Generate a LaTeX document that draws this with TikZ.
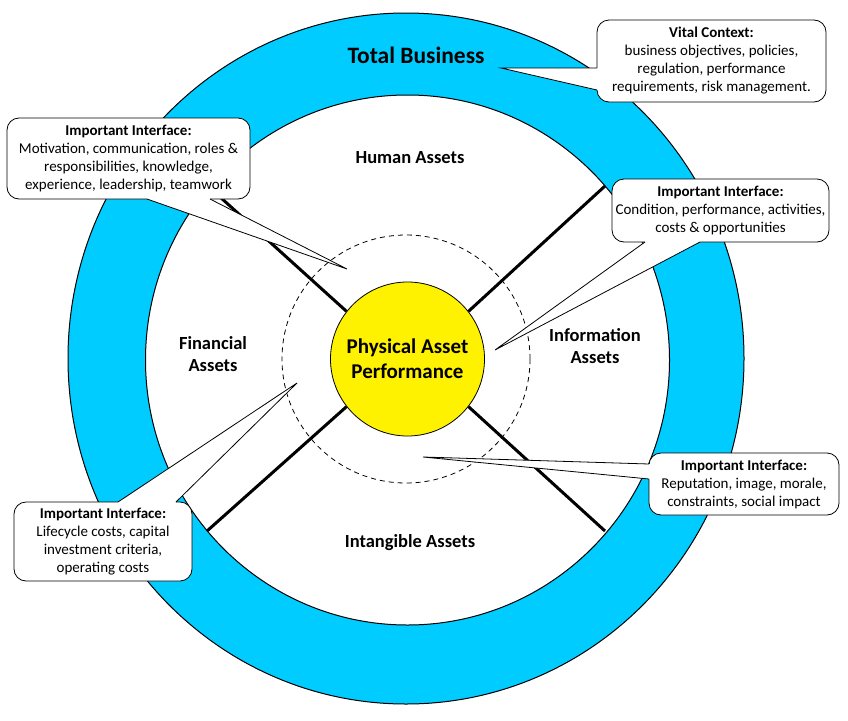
\documentclass[tikz,border=0pt]{standalone}
\usepackage{fontspec}
\setmainfont{Carlito}
\usetikzlibrary{calc}
\definecolor{ringblue}{RGB}{0,204,255}
\begin{document}
\begin{tikzpicture}[x=1pt,y=-1pt,
  callout/.style={draw=black, fill=white, rounded corners=12pt, line width=0.8pt, align=center, inner sep=0pt, font=\fontsize{15}{18}\selectfont},
  tailedge/.style={draw=black, line width=0.8pt},
  spoke/.style={line width=3pt},
  seclabel/.style={font=\fontsize{18.5}{22.5}\selectfont\bfseries, align=center},
]
\useasboundingbox (0,0) rectangle (848,720);
\fill[white] (0,0) rectangle (848,720);
% ring
\filldraw[fill=ringblue, even odd rule, line width=1pt]
  (406,358.5) ellipse [x radius=338pt, y radius=345.5pt]
  (407.5,360) ellipse [x radius=262pt, y radius=265pt];
% dashed circle
\node[circle, draw, dash pattern=on 5pt off 4pt, line width=0.8pt, minimum size=248pt, inner sep=0pt] (dash) at (406,359) {};
% centre
\node[circle, draw, fill=yellow, minimum size=154pt, inner sep=0pt, line width=0.8pt,
  font=\fontsize{21}{25}\selectfont\bfseries, align=center] (pap) at (407.5,359) {Physical Asset\\Performance};
% spokes
\coordinate (e1) at (605,186);
\coordinate (e2) at (209,187);
\coordinate (e3) at (207,531);
\coordinate (e4) at (605,531);
\draw[spoke] (pap.38) -- (e1);
\draw[spoke] (pap.142) -- (e2);
\draw[spoke] (pap.218) -- (e3);
\draw[spoke] (pap.322) -- (e4);
% labels
\node[font=\fontsize{23.5}{28}\selectfont\bfseries] (tb) at (416,55) {Total Business};
\node[seclabel] (human) at (410,158) {Human Assets};
\node[seclabel] (fin) at (213,354) {Financial\\Assets};
\node[seclabel] (info) at (595,346) {Information\\Assets};
\node[seclabel] (intang) at (410,543) {Intangible Assets};
% callout: vital context
\node[callout, minimum width=229pt, minimum height=82pt] (vital) at (711.5,61)
  {\textbf{Vital Context:}\\business objectives, policies,\\regulation, performance\\requirements, risk management.};
\coordinate (vt) at (501,68);
\coordinate (vb1) at (597,68);
\coordinate (vb2) at (597,90);
\fill[white] (vt) -- (vb1) -- ($(vb1)+(2,0)$) -- ($(vb2)+(2,0)$) -- (vb2) -- cycle;
\draw[tailedge] (vb1) -- (vt) -- (vb2);
% callout: human
\node[callout, minimum width=243pt, minimum height=81pt] (hbox) at (128.5,158.5)
  {\textbf{Important Interface:}\\Motivation, communication, roles \&\\responsibilities, knowledge,\\experience, leadership, teamwork};
\coordinate (ht) at (347,269);
\coordinate (hb1) at (147,199);
\coordinate (hb2) at (210,199);
\fill[white] (ht) -- (hb1) -- ($(hb1)+(0,-2)$) -- ($(hb2)+(0,-2)$) -- (hb2) -- cycle;
\draw[tailedge] (hb1) -- (ht) -- (hb2);
% callout: information
\node[callout, minimum width=217pt, minimum height=63pt] (ibox) at (720.5,210.5)
  {\textbf{Important Interface:}\\Condition, performance, activities,\\costs \& opportunities};
\coordinate (it) at (495,350);
\coordinate (ib1) at (645,242);
\coordinate (ib2) at (700,242);
\fill[white] (it) -- (ib1) -- ($(ib1)+(0,-2)$) -- ($(ib2)+(0,-2)$) -- (ib2) -- cycle;
\draw[tailedge] (ib1) -- (it) -- (ib2);
% callout: intangible
\node[callout, minimum width=190pt, minimum height=62pt] (nbox) at (744,484)
  {\textbf{Important Interface:}\\Reputation, image, morale,\\constraints, social impact};
\coordinate (nt) at (423,457);
\coordinate (nb1) at (649,464);
\coordinate (nb2) at (649,479);
\fill[white] (nt) -- (nb1) -- ($(nb1)+(2,0)$) -- ($(nb2)+(2,0)$) -- (nb2) -- cycle;
\draw[tailedge] (nb1) -- (nt) -- (nb2);
% callout: financial
\node[callout, minimum width=178pt, minimum height=79pt] (fbox) at (103,541.5)
  {\textbf{Important Interface:}\\Lifecycle costs, capital\\investment criteria,\\operating costs};
\coordinate (ft) at (297,383);
\coordinate (fb1) at (118,502);
\coordinate (fb2) at (176,502);
\fill[white] (ft) -- (fb1) -- ($(fb1)+(0,2)$) -- ($(fb2)+(0,2)$) -- (fb2) -- cycle;
\draw[tailedge] (fb1) -- (ft) -- (fb2);
\end{tikzpicture}
\end{document}
